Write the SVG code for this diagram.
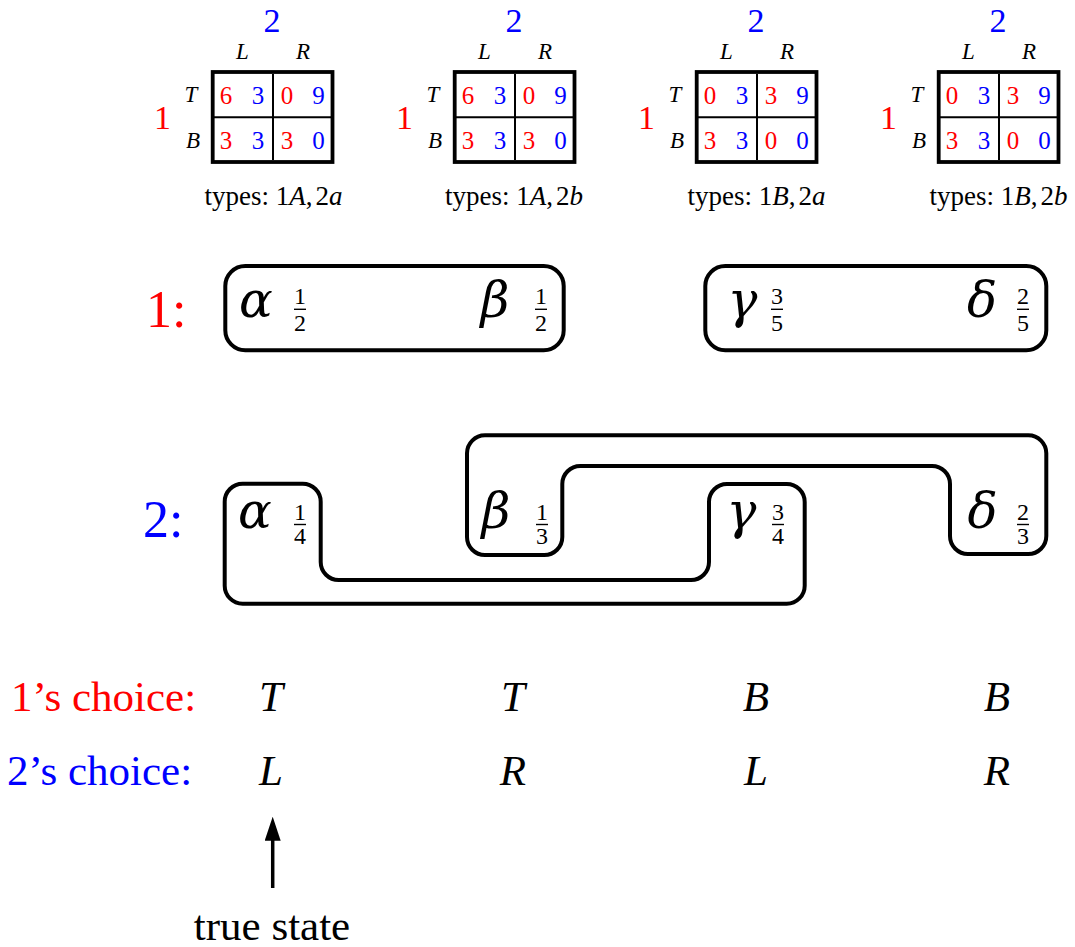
<svg xmlns="http://www.w3.org/2000/svg" width="1075" height="947" viewBox="0 0 1075 947">
<style>
text{font-family:"Liberation Serif","DejaVu Serif",serif;fill:#000}
.r{fill:#ff0000}.b{fill:#0000ff}
.i{font-style:italic}
.dg{font-size:25px;text-anchor:middle}
.pl{font-size:34px;text-anchor:middle}
.lab{font-size:23px;font-style:italic;text-anchor:middle}
.ty{font-size:27px;text-anchor:middle}
.gr{font-family:"DejaVu Serif","Liberation Serif",serif;font-size:50px;font-style:italic;text-anchor:middle}
.fr{font-size:24px;text-anchor:middle}
.big{font-size:52px}
.ch{font-size:43px}
.cl{font-size:43px;font-style:italic;text-anchor:middle}
.box{fill:none;stroke:#000;stroke-width:4;stroke-linejoin:round}
.mb{fill:none;stroke:#000;stroke-width:3.8}
.ml{stroke:#000;stroke-width:2}
.fl{stroke:#000;stroke-width:1.4}
</style>
<defs>
<marker id="ah" viewBox="0 0 24 16" refX="4" refY="8" markerWidth="24" markerHeight="16" markerUnits="userSpaceOnUse" orient="auto">
<path d="M24,8 L0,0 L0,16 Z" fill="#000"/>
</marker>
</defs>

<!-- Matrix 1 -->
<g id="matrix1">
<text class="pl b" x="272" y="32">2</text>
<text class="lab" x="242.5" y="59">L</text>
<text class="lab" x="303" y="59">R</text>
<text class="pl r" x="162.5" y="129">1</text>
<text class="lab" x="191" y="102">T</text>
<text class="lab" x="193" y="148">B</text>
<rect class="mb" x="212.7" y="72" width="119.8" height="90"/>
<line class="ml" x1="273" y1="74" x2="273" y2="160"/>
<line class="ml" x1="214" y1="117.3" x2="331" y2="117.3"/>
<text class="dg r" x="226" y="104">6</text><text class="dg b" x="258" y="104">3</text>
<text class="dg r" x="287" y="104">0</text><text class="dg b" x="318.5" y="104">9</text>
<text class="dg r" x="226" y="148.5">3</text><text class="dg b" x="258" y="148.5">3</text>
<text class="dg r" x="287" y="148.5">3</text><text class="dg b" x="318.5" y="148.5">0</text>
<text class="ty" x="273.5" y="204.5">types: 1<tspan class="i">A</tspan>,<tspan dx="3">2</tspan><tspan class="i">a</tspan></text>
</g>

<!-- Matrix 2 -->
<g id="matrix2" transform="translate(242,0)">
<text class="pl b" x="272" y="32">2</text>
<text class="lab" x="242.5" y="59">L</text>
<text class="lab" x="303" y="59">R</text>
<text class="pl r" x="162.5" y="129">1</text>
<text class="lab" x="191" y="102">T</text>
<text class="lab" x="193" y="148">B</text>
<rect class="mb" x="212.7" y="72" width="119.8" height="90"/>
<line class="ml" x1="273" y1="74" x2="273" y2="160"/>
<line class="ml" x1="214" y1="117.3" x2="331" y2="117.3"/>
<text class="dg r" x="226" y="104">6</text><text class="dg b" x="258" y="104">3</text>
<text class="dg r" x="287" y="104">0</text><text class="dg b" x="318.5" y="104">9</text>
<text class="dg r" x="226" y="148.5">3</text><text class="dg b" x="258" y="148.5">3</text>
<text class="dg r" x="287" y="148.5">3</text><text class="dg b" x="318.5" y="148.5">0</text>
<text class="ty" x="272" y="204.5">types: 1<tspan class="i">A</tspan>,<tspan dx="3">2</tspan><tspan class="i">b</tspan></text>
</g>

<!-- Matrix 3 -->
<g id="matrix3" transform="translate(484,0)">
<text class="pl b" x="272" y="32">2</text>
<text class="lab" x="242.5" y="59">L</text>
<text class="lab" x="303" y="59">R</text>
<text class="pl r" x="162.5" y="129">1</text>
<text class="lab" x="191" y="102">T</text>
<text class="lab" x="193" y="148">B</text>
<rect class="mb" x="212.7" y="72" width="119.8" height="90"/>
<line class="ml" x1="273" y1="74" x2="273" y2="160"/>
<line class="ml" x1="214" y1="117.3" x2="331" y2="117.3"/>
<text class="dg r" x="226" y="104">0</text><text class="dg b" x="258" y="104">3</text>
<text class="dg r" x="287" y="104">3</text><text class="dg b" x="318.5" y="104">9</text>
<text class="dg r" x="226" y="148.5">3</text><text class="dg b" x="258" y="148.5">3</text>
<text class="dg r" x="287" y="148.5">0</text><text class="dg b" x="318.5" y="148.5">0</text>
<text class="ty" x="272.5" y="204.5">types: 1<tspan class="i">B</tspan>,<tspan dx="3">2</tspan><tspan class="i">a</tspan></text>
</g>

<!-- Matrix 4 -->
<g id="matrix4" transform="translate(726,0)">
<text class="pl b" x="272" y="32">2</text>
<text class="lab" x="242.5" y="59">L</text>
<text class="lab" x="303" y="59">R</text>
<text class="pl r" x="162.5" y="129">1</text>
<text class="lab" x="191" y="102">T</text>
<text class="lab" x="193" y="148">B</text>
<rect class="mb" x="212.7" y="72" width="119.8" height="90"/>
<line class="ml" x1="273" y1="74" x2="273" y2="160"/>
<line class="ml" x1="214" y1="117.3" x2="331" y2="117.3"/>
<text class="dg r" x="226" y="104">0</text><text class="dg b" x="258" y="104">3</text>
<text class="dg r" x="287" y="104">3</text><text class="dg b" x="318.5" y="104">9</text>
<text class="dg r" x="226" y="148.5">3</text><text class="dg b" x="258" y="148.5">3</text>
<text class="dg r" x="287" y="148.5">0</text><text class="dg b" x="318.5" y="148.5">0</text>
<text class="ty" x="272.5" y="204.5">types: 1<tspan class="i">B</tspan>,<tspan dx="3">2</tspan><tspan class="i">b</tspan></text>
</g>

<!-- Player 1 partition -->
<g id="p1-label"><text class="big r" x="146" y="327">1:</text></g>
<g id="p1-cell-ab">
<rect class="box" x="225.3" y="266" width="338.4" height="84.3" rx="20" ry="20"/>
<text class="gr" x="256" y="317">α</text>
<text class="fr" x="300" y="304.3">1</text><line class="fl" x1="294" y1="309.3" x2="306" y2="309.3"/><text class="fr" x="300" y="331">2</text>
<text class="gr" x="495" y="317">β</text>
<text class="fr" x="541" y="304.3">1</text><line class="fl" x1="535" y1="309.3" x2="547" y2="309.3"/><text class="fr" x="541" y="331">2</text>
</g>
<g id="p1-cell-gd">
<rect class="box" x="705.3" y="266" width="341" height="84.3" rx="20" ry="20"/>
<text class="gr" x="742.5" y="317">γ</text>
<text class="fr" x="777" y="304.3">3</text><line class="fl" x1="771" y1="309.3" x2="783" y2="309.3"/><text class="fr" x="777" y="331">5</text>
<text class="gr" x="982" y="317">δ</text>
<text class="fr" x="1023" y="304.3">2</text><line class="fl" x1="1017" y1="309.3" x2="1029" y2="309.3"/><text class="fr" x="1023" y="331">5</text>
</g>

<!-- Player 2 partition -->
<g id="p2-label"><text class="big b" x="143" y="537">2:</text></g>
<g id="p2-cell-ag">
<path class="box" d="M224.7,501.7 A18,18 0 0 1 242.7,483.7 H302.7 A18,18 0 0 1 320.7,501.7 V562 A18,18 0 0 0 338.7,580 H691 A18,18 0 0 0 709,562 V502 A18,18 0 0 1 727,484 H786.7 A18,18 0 0 1 804.7,502 V585.7 A18,18 0 0 1 786.7,603.7 H242.7 A18,18 0 0 1 224.7,585.7 Z"/>
<text class="gr" x="255" y="528">α</text>
<text class="fr" x="300" y="520">1</text><line class="fl" x1="294" y1="524.5" x2="306" y2="524.5"/><text class="fr" x="300" y="543.5">4</text>
<text class="gr" x="741.5" y="528">γ</text>
<text class="fr" x="778" y="520">3</text><line class="fl" x1="772" y1="524.5" x2="784" y2="524.5"/><text class="fr" x="778" y="543.5">4</text>
</g>
<g id="p2-cell-bd">
<path class="box" d="M467,453.3 A18,18 0 0 1 485,435.3 H1028.3 A18,18 0 0 1 1046.3,453.3 V536 A18,18 0 0 1 1028.3,554 H968 A18,18 0 0 1 950,536 V484 A18,18 0 0 0 932,466 H580.3 A18,18 0 0 0 562.3,484 V537 A18,18 0 0 1 544.3,555 H485 A18,18 0 0 1 467,537 Z"/>
<text class="gr" x="496" y="528">β</text>
<text class="fr" x="542" y="520">1</text><line class="fl" x1="536" y1="524.5" x2="548" y2="524.5"/><text class="fr" x="542" y="543.5">3</text>
<text class="gr" x="982.5" y="528">δ</text>
<text class="fr" x="1023" y="520">2</text><line class="fl" x1="1017" y1="524.5" x2="1029" y2="524.5"/><text class="fr" x="1023" y="543.5">3</text>
</g>

<!-- Choices -->
<g id="choices1">
<text class="ch r" x="11" y="711">1’s choice:</text>
<text class="cl" x="271" y="711">T</text>
<text class="cl" x="513" y="711">T</text>
<text class="cl" x="756" y="711">B</text>
<text class="cl" x="997" y="711">B</text>
</g>
<g id="choices2">
<text class="ch b" x="7" y="785">2’s choice:</text>
<text class="cl" x="271" y="785">L</text>
<text class="cl" x="513" y="785">R</text>
<text class="cl" x="756" y="785">L</text>
<text class="cl" x="997" y="785">R</text>
</g>

<g id="connectors">
<line x1="272.7" y1="888" x2="272.7" y2="836.7" stroke="#000" stroke-width="3.5" marker-end="url(#ah)"/>
</g>
<g id="true-state"><text class="ch" x="272" y="940" text-anchor="middle">true state</text></g>
</svg>
